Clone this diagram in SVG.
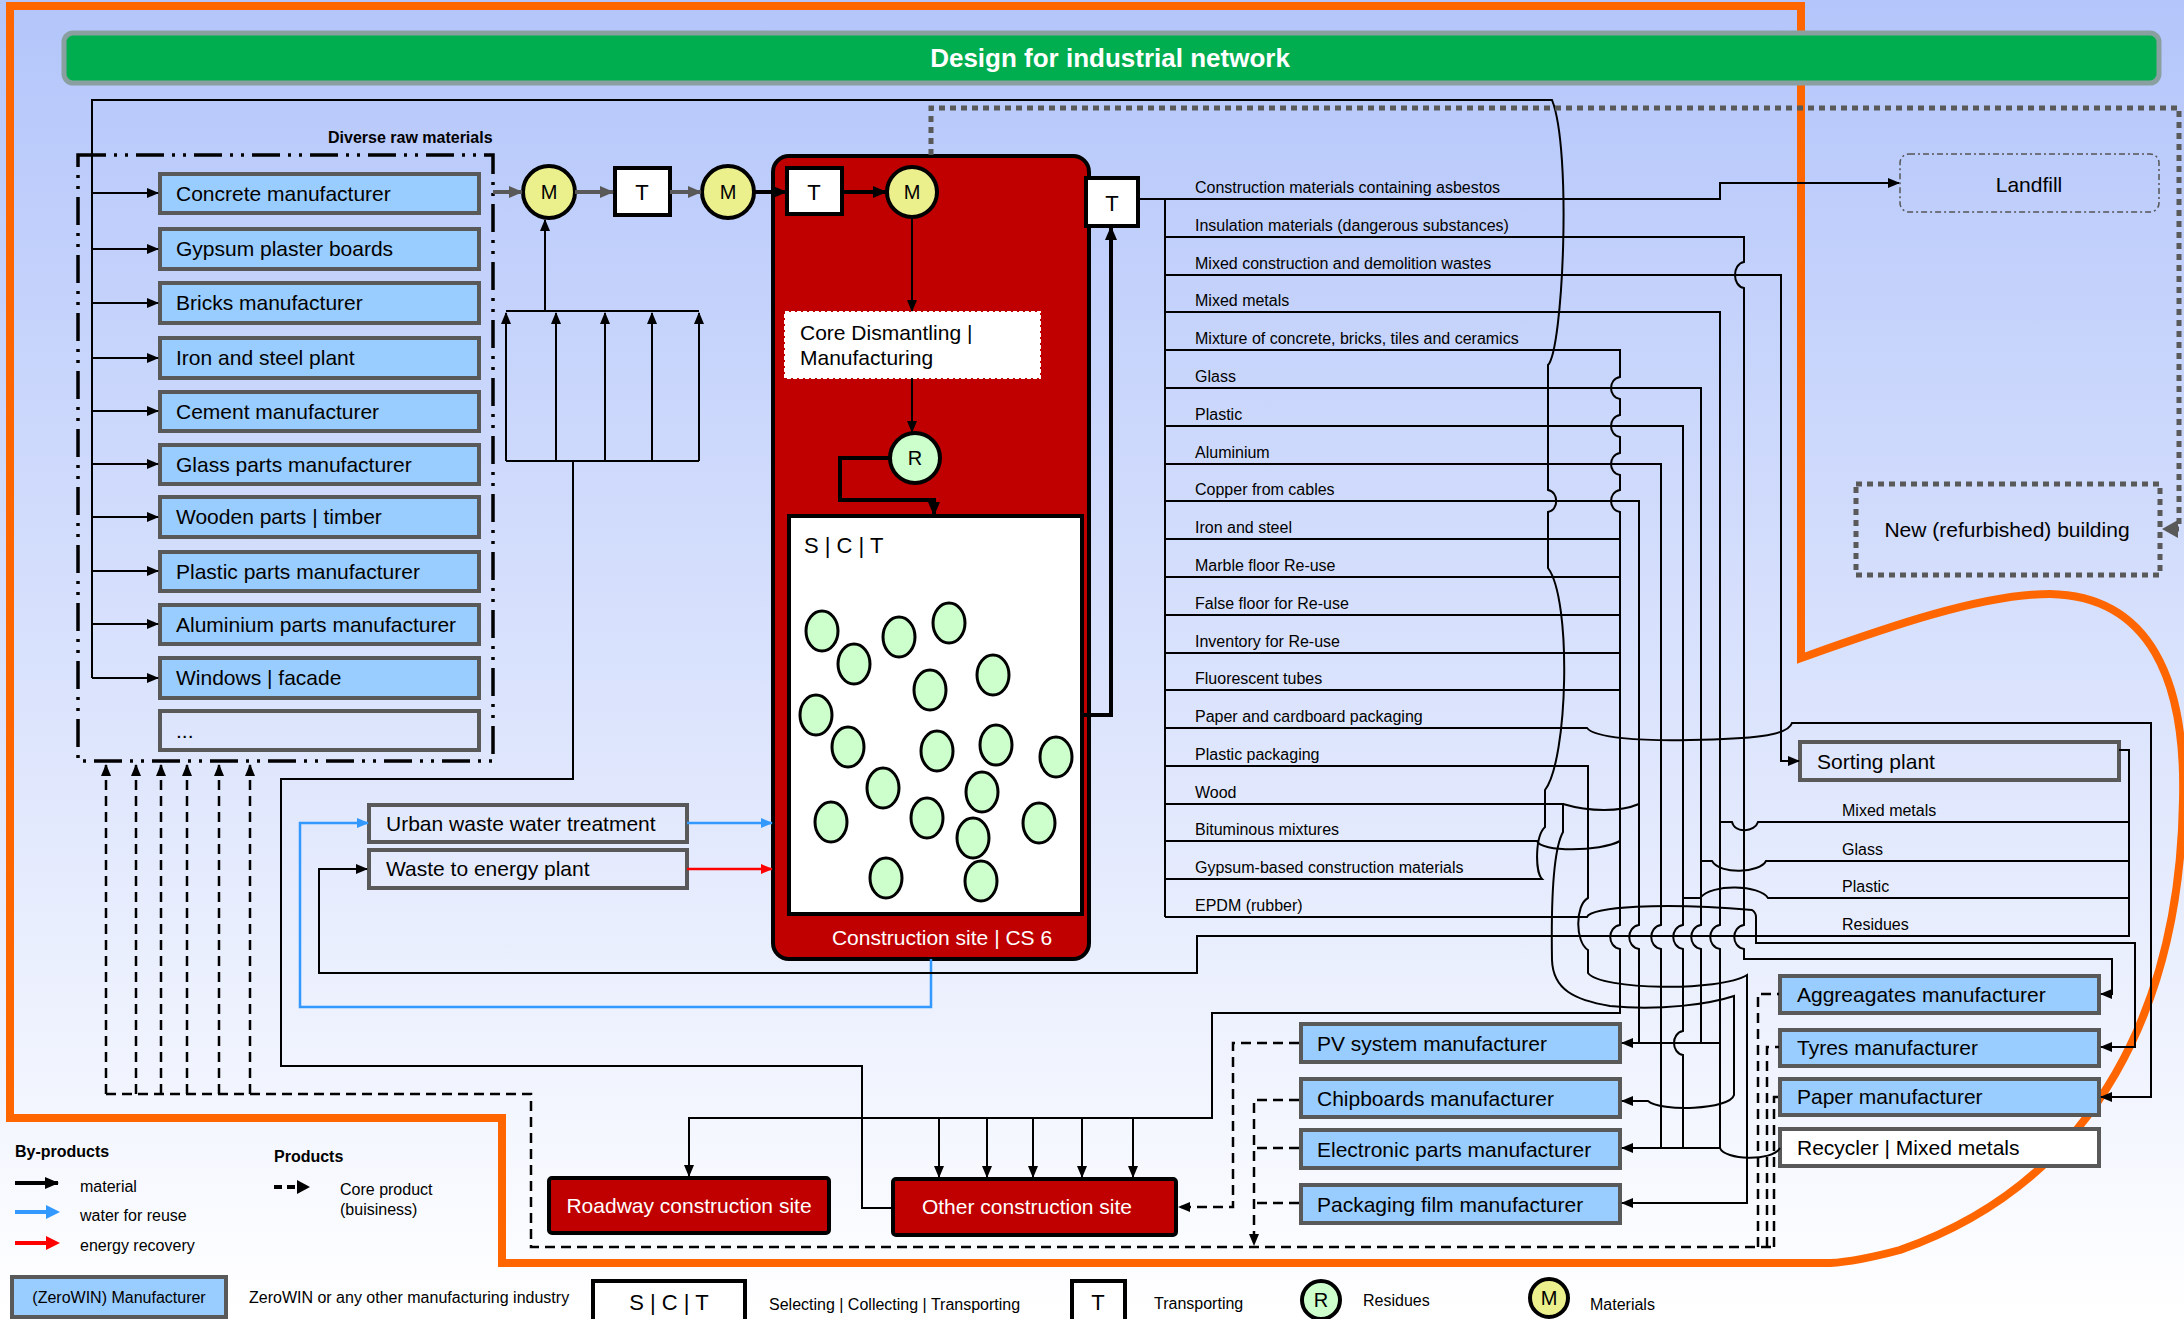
<svg xmlns="http://www.w3.org/2000/svg" width="2184" height="1319" viewBox="0 0 2184 1319">
<defs>
<linearGradient id="bg" x1="0" y1="0" x2="0" y2="1">
<stop offset="0" stop-color="#b3c5fa"/>
<stop offset="1" stop-color="#ffffff"/>
</linearGradient>
<marker id="ab" markerUnits="userSpaceOnUse" markerWidth="12" markerHeight="10" refX="11" refY="5" orient="auto"><path d="M0,0 L12,5 L0,10 z" fill="#000"/></marker>
<marker id="abB" markerUnits="userSpaceOnUse" markerWidth="14" markerHeight="12" refX="13" refY="6" orient="auto"><path d="M0,0 L14,6 L0,12 z" fill="#000"/></marker>
<marker id="ag" markerUnits="userSpaceOnUse" markerWidth="14" markerHeight="12" refX="13" refY="6" orient="auto"><path d="M0,0 L14,6 L0,12 z" fill="#595959"/></marker>
<marker id="abl" markerUnits="userSpaceOnUse" markerWidth="12" markerHeight="10" refX="11" refY="5" orient="auto"><path d="M0,0 L12,5 L0,10 z" fill="#3399ff"/></marker>
<marker id="ar" markerUnits="userSpaceOnUse" markerWidth="12" markerHeight="10" refX="11" refY="5" orient="auto"><path d="M0,0 L12,5 L0,10 z" fill="#ff0000"/></marker>
</defs>
<style>
text{font-family:"Liberation Sans",Arial,sans-serif;fill:#000}
.box{fill:#99ccff;stroke:#595959;stroke-width:4}
.wbox{fill:none;stroke:#595959;stroke-width:4}
.white{fill:#ffffff;stroke:#595959;stroke-width:4}
.red{fill:#c00000;stroke:#000;stroke-width:4}
.lbl{font-size:21px}
.wl{font-size:16px}
.lg{font-size:16px}
.ln{fill:none;stroke:#000;stroke-width:2}
.thk{fill:none;stroke:#000;stroke-width:4}
.gry{fill:none;stroke:#595959;stroke-width:4}
.dsh{fill:none;stroke:#000;stroke-width:2.5;stroke-dasharray:10 6}
.mc{fill:#ecf08c;stroke:#000;stroke-width:4}
.rc{fill:#ccffcc;stroke:#000;stroke-width:4}
.el{fill:#ccffcc;stroke:#000;stroke-width:3}
.tb{fill:#fff;stroke:#000;stroke-width:4}
</style>
<rect x="0" y="0" width="2184" height="1319" fill="url(#bg)"/>

<!-- orange boundary -->
<path d="M10,6 H1801 V658 C1880,630 1980,594 2050,594 C2150,596 2186,680 2183,800 C2180,1000 2100,1180 1900,1250 C1870,1258 1850,1262 1830,1263 H502 V1118 H10 Z" fill="none" stroke="#ff6600" stroke-width="8"/>

<!-- title -->
<g id="title">
<rect x="64" y="33" width="2095" height="50" rx="9" fill="#00ae4f" stroke="#8aa0a0" stroke-width="5"/>
<text x="1110" y="67" font-size="26" font-weight="bold" text-anchor="middle" style="fill:#fff">Design for industrial network</text>
</g>

<!-- raw materials group box -->
<g id="raw-materials">
<rect x="78" y="155" width="415" height="606" fill="none" stroke="#000" stroke-width="3.5" stroke-dasharray="28 8 3 8 3 8"/>
<text x="328" y="143" font-size="16" font-weight="bold">Diverse raw materials</text>
</g>

<g id="concrete"><rect class="box" x="160" y="174" width="319" height="39"/><text class="lbl" x="176" y="201">Concrete manufacturer</text></g>
<g id="gypsum"><rect class="box" x="160" y="229" width="319" height="40"/><text class="lbl" x="176" y="256">Gypsum plaster boards</text></g>
<g id="bricks"><rect class="box" x="160" y="283" width="319" height="40"/><text class="lbl" x="176" y="310">Bricks manufacturer</text></g>
<g id="iron"><rect class="box" x="160" y="338" width="319" height="40"/><text class="lbl" x="176" y="365">Iron and steel plant</text></g>
<g id="cement"><rect class="box" x="160" y="392" width="319" height="39"/><text class="lbl" x="176" y="419">Cement manufacturer</text></g>
<g id="glassparts"><rect class="box" x="160" y="445" width="319" height="39"/><text class="lbl" x="176" y="472">Glass parts manufacturer</text></g>
<g id="wooden"><rect class="box" x="160" y="497" width="319" height="40"/><text class="lbl" x="176" y="524">Wooden parts | timber</text></g>
<g id="plasticparts"><rect class="box" x="160" y="552" width="319" height="39"/><text class="lbl" x="176" y="579">Plastic parts manufacturer</text></g>
<g id="aluminiumparts"><rect class="box" x="160" y="605" width="319" height="39"/><text class="lbl" x="176" y="632">Aluminium parts manufacturer</text></g>
<g id="windows"><rect class="box" x="160" y="658" width="319" height="40"/><text class="lbl" x="176" y="685">Windows | facade</text></g>
<g id="more"><rect class="wbox" x="160" y="711" width="319" height="39"/><text class="lbl" x="176" y="738">...</text></g>

<!-- chain -->
<g id="m1"><circle class="mc" cx="549" cy="192" r="26"/><text x="549" y="199" font-size="20" text-anchor="middle">M</text></g>
<g id="t1"><rect class="tb" x="615" y="168" width="55" height="47"/><text x="642" y="200" font-size="22" text-anchor="middle">T</text></g>
<g id="m2"><circle class="mc" cx="728" cy="192" r="26"/><text x="728" y="199" font-size="20" text-anchor="middle">M</text></g>

<!-- construction site -->
<g id="construction-site">
<rect class="red" x="773" y="156" width="316" height="803" rx="16"/>
<text x="942" y="945" font-size="21" text-anchor="middle" style="fill:#fff">Construction site | CS 6</text>
</g>
<g id="t2"><rect class="tb" x="787" y="168" width="55" height="46"/><text x="814" y="200" font-size="22" text-anchor="middle">T</text></g>
<g id="m3"><circle class="mc" cx="912" cy="192" r="25"/><text x="912" y="199" font-size="20" text-anchor="middle">M</text></g>
<g id="core">
<rect x="785" y="312" width="255" height="66" fill="#fff" stroke="#fff" stroke-width="2" stroke-dasharray="4 2"/>
<text class="lbl" x="800" y="340">Core Dismantling |</text>
<text class="lbl" x="800" y="365">Manufacturing</text>
</g>
<g id="r"><circle class="rc" cx="915" cy="458" r="25"/><text x="915" y="465" font-size="20" text-anchor="middle">R</text></g>
<g id="sct">
<rect x="789" y="516" width="293" height="398" fill="#fff" stroke="#000" stroke-width="4"/>
<text x="804" y="553" font-size="22">S | C | T</text>
<g class="el">
<ellipse cx="822" cy="631" rx="16" ry="20"/><ellipse cx="899" cy="637" rx="16" ry="20"/><ellipse cx="949" cy="623" rx="16" ry="20"/>
<ellipse cx="854" cy="664" rx="16" ry="20"/><ellipse cx="930" cy="690" rx="16" ry="20"/><ellipse cx="993" cy="675" rx="16" ry="20"/>
<ellipse cx="816" cy="715" rx="16" ry="20"/><ellipse cx="848" cy="747" rx="16" ry="20"/><ellipse cx="937" cy="751" rx="16" ry="20"/>
<ellipse cx="996" cy="745" rx="16" ry="20"/><ellipse cx="1056" cy="757" rx="16" ry="20"/><ellipse cx="883" cy="788" rx="16" ry="20"/>
<ellipse cx="982" cy="792" rx="16" ry="20"/><ellipse cx="831" cy="822" rx="16" ry="20"/><ellipse cx="927" cy="818" rx="16" ry="20"/>
<ellipse cx="973" cy="838" rx="16" ry="20"/><ellipse cx="1039" cy="823" rx="16" ry="20"/><ellipse cx="886" cy="878" rx="16" ry="20"/>
<ellipse cx="981" cy="881" rx="16" ry="20"/>
</g>
</g>
<g id="t3"><rect class="tb" x="1086" y="178" width="52" height="48"/><text x="1112" y="211" font-size="22" text-anchor="middle">T</text></g>

<g id="urban"><rect class="wbox" x="369" y="805" width="318" height="37"/><text class="lbl" x="386" y="831">Urban waste water treatment</text></g>
<g id="wte"><rect class="wbox" x="369" y="850" width="318" height="38"/><text class="lbl" x="386" y="876">Waste to energy plant</text></g>

<g id="landfill"><rect x="1900" y="154" width="259" height="58" rx="9" fill="none" stroke="#555" stroke-width="1.5" stroke-dasharray="6 3 2 3"/><text x="2029" y="192" font-size="21" text-anchor="middle">Landfill</text></g>
<g id="newbuilding"><rect x="1856" y="484" width="304" height="91" fill="none" stroke="#595959" stroke-width="5" stroke-dasharray="6 5"/><text x="2007" y="537" font-size="21" text-anchor="middle">New (refurbished) building</text></g>

<g id="sorting"><rect x="1800" y="742" width="319" height="38" fill="none" stroke="#595959" stroke-width="4"/><text class="lbl" x="1817" y="769">Sorting plant</text></g>
<g id="aggregates"><rect class="box" x="1780" y="976" width="319" height="37"/><text class="lbl" x="1797" y="1002">Aggreagates manufacturer</text></g>
<g id="tyres"><rect class="box" x="1780" y="1030" width="319" height="36"/><text class="lbl" x="1797" y="1055">Tyres manufacturer</text></g>
<g id="paper"><rect class="box" x="1780" y="1079" width="319" height="36"/><text class="lbl" x="1797" y="1104">Paper manufacturer</text></g>
<g id="recycler"><rect class="white" x="1780" y="1129" width="319" height="37"/><text class="lbl" x="1797" y="1155">Recycler | Mixed metals</text></g>

<g id="pv"><rect class="box" x="1301" y="1024" width="319" height="38"/><text class="lbl" x="1317" y="1051">PV system manufacturer</text></g>
<g id="chipboards"><rect class="box" x="1301" y="1079" width="319" height="38"/><text class="lbl" x="1317" y="1106">Chipboards manufacturer</text></g>
<g id="electronic"><rect class="box" x="1301" y="1130" width="319" height="38"/><text class="lbl" x="1317" y="1157">Electronic parts manufacturer</text></g>
<g id="packaging"><rect class="box" x="1301" y="1185" width="319" height="38"/><text class="lbl" x="1317" y="1212">Packaging film manufacturer</text></g>

<g id="roadway"><rect class="red" x="549" y="1178" width="280" height="55" rx="3"/><text x="689" y="1213" font-size="21" text-anchor="middle" style="fill:#fff">Roadway construction site</text></g>
<g id="other"><rect class="red" x="893" y="1179" width="283" height="56" rx="3"/><text x="1027" y="1214" font-size="21" text-anchor="middle" style="fill:#fff">Other construction site</text></g>

<!-- waste labels -->
<g id="waste-labels" class="wl">
<text class="wl" x="1195" y="193">Construction materials containing asbestos</text>
<text class="wl" x="1195" y="231">Insulation materials (dangerous substances)</text>
<text class="wl" x="1195" y="269">Mixed construction and demolition wastes</text>
<text class="wl" x="1195" y="306">Mixed metals</text>
<text class="wl" x="1195" y="344">Mixture of concrete, bricks, tiles and ceramics</text>
<text class="wl" x="1195" y="382">Glass</text>
<text class="wl" x="1195" y="420">Plastic</text>
<text class="wl" x="1195" y="458">Aluminium</text>
<text class="wl" x="1195" y="495">Copper from cables</text>
<text class="wl" x="1195" y="533">Iron and steel</text>
<text class="wl" x="1195" y="571">Marble floor Re-use</text>
<text class="wl" x="1195" y="609">False floor for Re-use</text>
<text class="wl" x="1195" y="647">Inventory for Re-use</text>
<text class="wl" x="1195" y="684">Fluorescent tubes</text>
<text class="wl" x="1195" y="722">Paper and cardboard packaging</text>
<text class="wl" x="1195" y="760">Plastic packaging</text>
<text class="wl" x="1195" y="798">Wood</text>
<text class="wl" x="1195" y="835">Bituminous mixtures</text>
<text class="wl" x="1195" y="873">Gypsum-based construction materials</text>
<text class="wl" x="1195" y="911">EPDM (rubber)</text>
<text class="wl" x="1842" y="816">Mixed metals</text>
<text class="wl" x="1842" y="855">Glass</text>
<text class="wl" x="1842" y="892">Plastic</text>
<text class="wl" x="1842" y="930">Residues</text>
</g>

<!-- connectors -->
<g id="connectors">
<!-- gypsum / top return line -->
<path class="ln" d="M1165,879 H1542 C1535,872 1535,836 1545,827 V790 C1568,760 1572,600 1548,568 V512 C1559,510 1559,492 1548,490 V365 C1563,350 1572,150 1552,100 H92 V678"/>
<path class="ln" marker-end="url(#ab)" d="M92,193 H158"/>
<path class="ln" marker-end="url(#ab)" d="M92,249 H158"/>
<path class="ln" marker-end="url(#ab)" d="M92,303 H158"/>
<path class="ln" marker-end="url(#ab)" d="M92,358 H158"/>
<path class="ln" marker-end="url(#ab)" d="M92,411 H158"/>
<path class="ln" marker-end="url(#ab)" d="M92,464 H158"/>
<path class="ln" marker-end="url(#ab)" d="M92,517 H158"/>
<path class="ln" marker-end="url(#ab)" d="M92,571 H158"/>
<path class="ln" marker-end="url(#ab)" d="M92,624 H158"/>
<path class="ln" marker-end="url(#ab)" d="M92,678 H158"/>

<!-- material chain -->
<path class="gry" marker-end="url(#ag)" d="M493,192 H522"/>
<path class="gry" marker-end="url(#ag)" d="M575,192 H613"/>
<path class="gry" marker-end="url(#ag)" d="M670,192 H701"/>
<path class="thk" marker-end="url(#abB)" d="M754,192 H786"/>
<path class="thk" marker-end="url(#abB)" d="M842,192 H886"/>
<path class="ln" marker-end="url(#ab)" d="M545,311 V220"/>
<path class="ln" d="M506,311 H699 M506,461 H699"/>
<path class="ln" marker-end="url(#ab)" d="M506,461 V313"/>
<path class="ln" marker-end="url(#ab)" d="M556,461 V313"/>
<path class="ln" marker-end="url(#ab)" d="M605,461 V313"/>
<path class="ln" marker-end="url(#ab)" d="M652,461 V313"/>
<path class="ln" marker-end="url(#ab)" d="M699,461 V313"/>
<path class="ln" d="M573,461 V779 H281 V1066 H862 V1208 H893"/>

<!-- inside construction site -->
<path class="ln" marker-end="url(#ab)" d="M912,218 V311"/>
<path class="ln" marker-end="url(#ab)" d="M912,378 V432"/>
<path class="thk" marker-end="url(#abB)" d="M889,458 H840 V500 H934 V515"/>
<path class="thk" marker-end="url(#abB)" d="M1082,715 H1111 V227"/>

<!-- water / energy -->
<path fill="none" stroke="#3399ff" stroke-width="2.5" marker-end="url(#abl)" d="M931,959 V1007 H300 V823 H368"/>
<path fill="none" stroke="#3399ff" stroke-width="2.5" marker-end="url(#abl)" d="M687,823 H772"/>
<path fill="none" stroke="#ff0000" stroke-width="2.5" marker-end="url(#ar)" d="M687,869 H772"/>

<!-- dotted to new building -->
<path fill="none" stroke="#595959" stroke-width="5" stroke-dasharray="6 5" d="M931,155 V108 H2179 V529 H2176"/>
<path d="M2162,529 L2178,520 L2178,538 Z" fill="#595959"/>

<!-- waste bundle -->
<path class="ln" marker-end="url(#ab)" d="M1138,199 H1720 V183 H1899"/>
<path class="ln" d="M1165,199 V917"/>
<path class="ln" marker-end="url(#ab)" d="M1165,237 H1744 V262 C1732,264 1732,286 1744,288 V925 C1731,927 1731,947 1744,949 V959 H2112 V994 H2101"/>
<path class="ln" marker-end="url(#ab)" d="M1165,275 H1781 V761 H1799"/>
<path class="ln" d="M1165,312 H1720 V925 C1707,927 1707,947 1720,949 V1148"/>
<path class="ln" marker-end="url(#ab)" d="M1720,1043 H1622"/>
<path class="ln" marker-end="url(#ab)" d="M1720,1148 H1622"/>
<path class="ln" d="M1720,1148 C1724,1160 1772,1162 1780,1148"/>
<path class="ln" marker-end="url(#ab)" d="M1165,350 H1620 V377 C1608,379 1608,397 1620,399 V415 C1608,417 1608,435 1620,437 V453 C1608,455 1608,473 1620,475 V490 C1608,492 1608,510 1620,512 V925 C1607,927 1607,947 1620,949 V1013 H1212 V1118 H689 V1176"/>
<path class="ln" marker-end="url(#ab)" d="M939,1118 V1177"/>
<path class="ln" marker-end="url(#ab)" d="M987,1118 V1177"/>
<path class="ln" marker-end="url(#ab)" d="M1033,1118 V1177"/>
<path class="ln" marker-end="url(#ab)" d="M1082,1118 V1177"/>
<path class="ln" marker-end="url(#ab)" d="M1133,1118 V1177"/>
<path class="ln" d="M1165,388 H1701 V925 C1688,927 1688,947 1701,949 V1043"/>
<path class="ln" d="M1165,426 H1683 V925 C1670,927 1670,947 1683,949 V1031 C1671,1033 1671,1053 1683,1055 V1148"/>
<path class="ln" d="M1165,464 H1661 V925 C1648,927 1648,947 1661,949 V1148"/>
<path class="ln" d="M1165,501 H1639 V925 C1626,927 1626,947 1639,949 V1043"/>
<path class="ln" d="M1165,539 H1620 M1165,577 H1620 M1165,615 H1620 M1165,653 H1620 M1165,690 H1620"/>
<path class="ln" marker-end="url(#ab)" d="M1165,728 H1587 C1595,738 1640,741 1690,740 C1750,739 1788,736 1792,723 H2151 V1097 H2101"/>
<path class="ln" marker-end="url(#ab)" d="M1165,766 H1588 V898 C1575,905 1575,942 1588,950 V973 C1600,990 1720,992 1747,975 V1203 H1622"/>
<path class="ln" marker-end="url(#ab)" d="M1165,804 H1563 V832 C1553,850 1551,900 1552,960 C1553,990 1575,1000 1610,1006 C1660,1011 1710,1004 1734,996 V1095 C1730,1110 1660,1112 1648,1101 H1622"/>
<path class="ln" d="M1563,804 C1590,812 1620,812 1639,804"/>
<path class="ln" d="M1165,841 H1537 C1540,852 1600,852 1620,841"/>
<path class="ln" marker-end="url(#ab)" d="M1165,917 H1587 C1591,907 1660,902 1752,910 C1755,912 1756,914 1756,917 V943 H2135 V1047 H2101"/>
<path class="ln" marker-end="url(#ab)" d="M2119,750 H2129 V936 H1197 V973 H319 V869 H367"/>
<path class="ln" d="M2129,822 H1758 C1755,832 1735,834 1732,822 H1720"/>
<path class="ln" d="M2129,861 H1766 C1760,873 1720,875 1712,861 H1701"/>
<path class="ln" d="M2129,898 H1768 C1760,885 1712,883 1700,898 H1683"/>

<!-- core product dashed -->
<path class="dsh" marker-end="url(#ab)" d="M106,1094 V765"/>
<path class="dsh" marker-end="url(#ab)" d="M136,1094 V765"/>
<path class="dsh" marker-end="url(#ab)" d="M161,1094 V765"/>
<path class="dsh" marker-end="url(#ab)" d="M187,1094 V765"/>
<path class="dsh" marker-end="url(#ab)" d="M219,1094 V765"/>
<path class="dsh" marker-end="url(#ab)" d="M250,1094 V765"/>
<path class="dsh" d="M106,1094 H531 V1247 H1774 M1758,1247 V994 H1779 M1767,1247 V1047 H1779 M1774,1247 V1097 H1779"/>
<path class="dsh" marker-end="url(#ab)" d="M1299,1043 H1233 V1207 H1179"/>
<path class="dsh" marker-end="url(#ab)" d="M1299,1100 H1254 V1245"/>
<path class="dsh" d="M1299,1148 H1254 M1299,1203 H1254"/>
</g>

<!-- legend -->
<g id="legend">
<text x="15" y="1157" font-size="16" font-weight="bold">By-products</text>
<text x="274" y="1162" font-size="16" font-weight="bold">Products</text>
<path class="thk" marker-end="url(#abB)" d="M15,1183 H58"/>
<text class="lg" x="80" y="1192">material</text>
<path fill="none" stroke="#3399ff" stroke-width="4" d="M15,1212 H50"/><path d="M46,1205 L60,1212 L46,1219 Z" fill="#3399ff"/>
<text class="lg" x="80" y="1221">water for reuse</text>
<path fill="none" stroke="#ff0000" stroke-width="4" d="M15,1243 H50"/><path d="M46,1236 L60,1243 L46,1250 Z" fill="#ff0000"/>
<text class="lg" x="80" y="1251">energy recovery</text>
<path fill="none" stroke="#000" stroke-width="4" stroke-dasharray="8 5" d="M274,1187 H300"/><path d="M297,1180 L310,1187 L297,1194 Z" fill="#000"/>
<text class="lg" x="340" y="1195">Core product</text>
<text class="lg" x="340" y="1215">(buisiness)</text>
<rect class="box" x="12" y="1277" width="214" height="40"/>
<text class="lg" x="119" y="1303" text-anchor="middle">(ZeroWIN) Manufacturer</text>
<text class="lg" x="249" y="1303">ZeroWIN or any other manufacturing industry</text>
<rect x="593" y="1281" width="152" height="44" fill="#fff" stroke="#000" stroke-width="4"/>
<text x="669" y="1310" font-size="22" text-anchor="middle">S | C | T</text>
<text class="lg" x="769" y="1310">Selecting | Collecting | Transporting</text>
<rect x="1072" y="1281" width="53" height="44" fill="#fff" stroke="#000" stroke-width="4"/>
<text x="1098" y="1310" font-size="22" text-anchor="middle">T</text>
<text class="lg" x="1154" y="1309">Transporting</text>
<circle class="rc" cx="1321" cy="1300" r="19"/><text x="1321" y="1307" font-size="20" text-anchor="middle">R</text>
<text class="lg" x="1363" y="1306">Residues</text>
<circle class="mc" cx="1549" cy="1298" r="19"/><text x="1549" y="1305" font-size="20" text-anchor="middle">M</text>
<text class="lg" x="1590" y="1310">Materials</text>
</g>
</svg>
